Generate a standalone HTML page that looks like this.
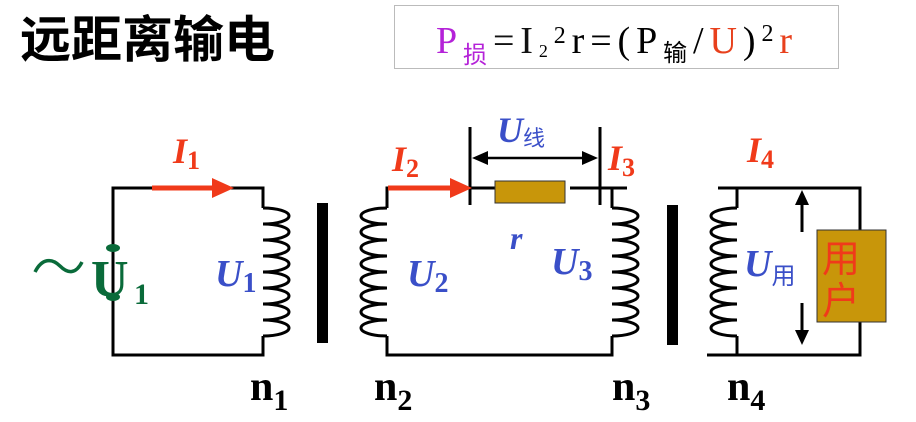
<!DOCTYPE html>
<html><head><meta charset="utf-8"><style>
body{margin:0;background:#fff;width:916px;height:422px;overflow:hidden}
svg{display:block}
text{font-family:"Liberation Serif","Noto Serif CJK SC",serif}
</style></head><body>
<svg width="916" height="422" viewBox="0 0 916 422" xmlns="http://www.w3.org/2000/svg">
<text x="20" y="57" font-size="50" textLength="255" lengthAdjust="spacingAndGlyphs" style="font-family:'Noto Sans CJK SC',sans-serif" font-weight="bold" fill="#000">远距离输电</text>
<rect x="394.5" y="5.5" width="444" height="63" fill="#fff" stroke="#bbb" stroke-width="1"/>
<text y="53" font-size="38" x="436" textLength="356" lengthAdjust="spacing"><tspan fill="#b422d8">P</tspan><tspan font-size="24" dy="10" fill="#b422d8" style="font-family:'Noto Sans CJK SC',sans-serif">损</tspan><tspan dy="-10" fill="#111">=I</tspan><tspan font-size="18" dy="4">2</tspan><tspan font-size="24" dy="-14">2</tspan><tspan dy="10">r=(P</tspan><tspan font-size="24" dy="8" style="font-family:'Noto Sans CJK SC',sans-serif">输</tspan><tspan dy="-8">/</tspan><tspan fill="#e8401c">U</tspan><tspan>)</tspan><tspan font-size="24" dy="-12">2</tspan><tspan dy="12" fill="#e8401c">r</tspan></text>
<g fill="none" stroke="#000" stroke-width="3">
<path d="M263 208 V188 H113 V355 H263 V336"/>
<path d="M263 208 a26 8 0 0 1 0 16 a26 8 0 0 1 0 16 a26 8 0 0 1 0 16 a26 8 0 0 1 0 16 a26 8 0 0 1 0 16 a26 8 0 0 1 0 16 a26 8 0 0 1 0 16 a26 8 0 0 1 0 16"/>
<path d="M387 208 V188 H470 M570 188 H627 M612 188 V208 M612 336 V355 H387 V336"/>
<path d="M470 188 H495"/>
<path d="M387 208 a26 8 0 0 0 0 16 a26 8 0 0 0 0 16 a26 8 0 0 0 0 16 a26 8 0 0 0 0 16 a26 8 0 0 0 0 16 a26 8 0 0 0 0 16 a26 8 0 0 0 0 16 a26 8 0 0 0 0 16"/>
<path d="M612 208 a26 8 0 0 1 0 16 a26 8 0 0 1 0 16 a26 8 0 0 1 0 16 a26 8 0 0 1 0 16 a26 8 0 0 1 0 16 a26 8 0 0 1 0 16 a26 8 0 0 1 0 16 a26 8 0 0 1 0 16"/>
<path d="M737 208 a26 8 0 0 0 0 16 a26 8 0 0 0 0 16 a26 8 0 0 0 0 16 a26 8 0 0 0 0 16 a26 8 0 0 0 0 16 a26 8 0 0 0 0 16 a26 8 0 0 0 0 16 a26 8 0 0 0 0 16"/>
<path d="M737 208 V188 M718 188 H860 V230 M860 322 V355 H707 M737 355 V336"/>
<path d="M470 127 V205 M600 127 V205" stroke-width="3"/>
<path d="M478 158 H592" stroke-width="2.5"/>
<path d="M802 200 V232 M802 303 V335" stroke-width="3"/>
</g>
<path d="M472 158 L488 151 L488 165Z M598 158 L582 151 L582 165Z"/>
<path d="M802 190 L795 205 L809 205Z M802 345 L795 330 L809 330Z"/>
<rect x="317" y="203" width="11" height="140" fill="#000"/>
<rect x="667" y="205" width="11" height="140" fill="#000"/>
<rect x="495" y="181" width="70" height="22" fill="#c8960a" stroke="#333" stroke-width="1"/>
<rect x="817" y="230" width="69" height="92" fill="#c8960a" stroke="#333" stroke-width="1"/>
<text x="822" y="272" font-size="38" fill="#f03a1a" style="font-family:'Noto Sans CJK SC',sans-serif">用</text>
<text x="822" y="314" font-size="38" fill="#f03a1a" style="font-family:'Noto Sans CJK SC',sans-serif">户</text>
<path d="M152 188 H214" stroke="#f03a1a" stroke-width="5"/>
<path d="M234 188 L212 178 L212 198Z" fill="#f03a1a"/>
<path d="M388 188 H452" stroke="#f03a1a" stroke-width="5"/>
<path d="M472 188 L450 178 L450 198Z" fill="#f03a1a"/>
<ellipse cx="113" cy="248" rx="7" ry="4" fill="#0a6b3a"/>
<ellipse cx="113" cy="297" rx="7" ry="4" fill="#0a6b3a"/>
<g font-weight="bold" font-style="italic">
<text x="173" y="163" font-size="36" fill="#f03a1a">I<tspan font-size="26" font-style="normal" dy="6">1</tspan></text>
<text x="392" y="171" font-size="36" fill="#f03a1a">I<tspan font-size="26" font-style="normal" dy="6">2</tspan></text>
<text x="608" y="170" font-size="36" fill="#f03a1a">I<tspan font-size="26" font-style="normal" dy="6">3</tspan></text>
<text x="747" y="162" font-size="36" fill="#f03a1a">I<tspan font-size="26" font-style="normal" dy="6">4</tspan></text>
<text x="497" y="142" font-size="36" fill="#3a4fc8">U<tspan font-size="22" font-weight="normal" font-style="normal" style="font-family:'Noto Sans CJK SC',sans-serif" dy="4">线</tspan></text>
<text x="215" y="286" font-size="38" fill="#3a4fc8">U<tspan font-size="28" font-style="normal" dy="6">1</tspan></text>
<text x="407" y="286" font-size="38" fill="#3a4fc8">U<tspan font-size="28" font-style="normal" dy="6">2</tspan></text>
<text x="551" y="274" font-size="38" fill="#3a4fc8">U<tspan font-size="28" font-style="normal" dy="6">3</tspan></text>
<text x="510" y="249" font-size="32" fill="#3a4fc8">r</text>
<text x="744" y="276" font-size="38" fill="#3a4fc8">U<tspan font-size="24" font-weight="normal" font-style="normal" style="font-family:'Noto Sans CJK SC',sans-serif" dy="8">用</tspan></text>
</g>
<path d="M35 272 C42 258 52 258 60 266 C68 274 76 274 82 262" fill="none" stroke="#0a6b3a" stroke-width="3.5"/>
<text x="91" y="296" font-size="52" font-weight="bold" fill="#0a6b3a">U</text>
<text x="134" y="304" font-size="30" font-weight="bold" fill="#0a6b3a">1</text>
<g font-weight="bold" fill="#000">
<text x="250" y="400" font-size="42">n<tspan font-size="30" dy="10">1</tspan></text>
<text x="374" y="400" font-size="42">n<tspan font-size="30" dy="10">2</tspan></text>
<text x="612" y="400" font-size="42">n<tspan font-size="30" dy="10">3</tspan></text>
<text x="727" y="400" font-size="42">n<tspan font-size="30" dy="10">4</tspan></text>
</g>
</svg>
</body></html>
